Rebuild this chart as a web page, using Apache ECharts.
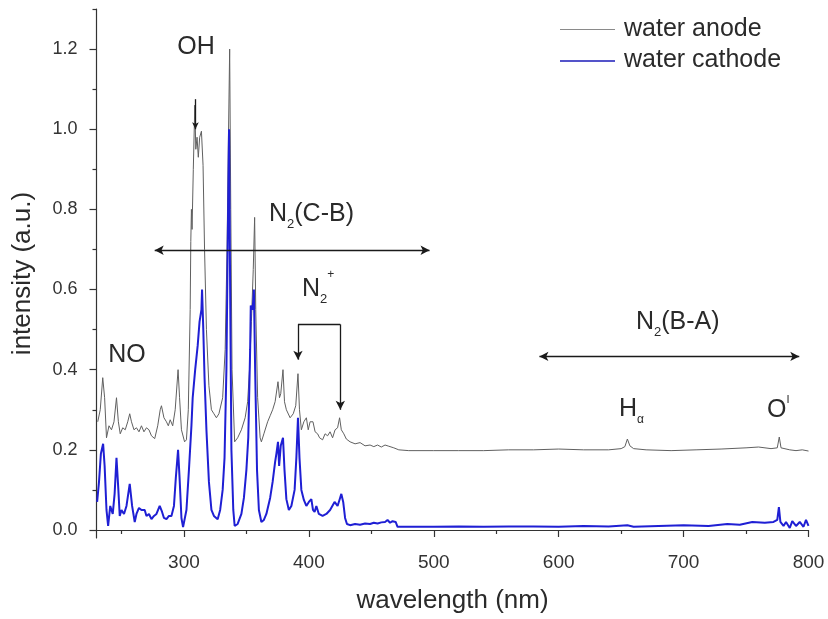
<!DOCTYPE html>
<html>
<head>
<meta charset="utf-8">
<script src="https://cdn.jsdelivr.net/npm/echarts@6/dist/echarts.min.js"></script>
<style>
  html, body { margin: 0; padding: 0; background: #ffffff; }
  #chart { width: 828px; height: 619px; }
</style>
</head>
<body>
<div id="chart"></div>
<script>
// Emission spectrum, water anode (upper trace)
const anodeWavelength = [
  231, 233, 235, 236.5, 238, 240, 242, 244, 246, 247.5, 249, 251, 253, 255, 256.6, 258, 260, 262, 264, 266,
  268, 270, 272, 274, 276.6, 279, 281, 282, 284, 286, 287.5, 289, 291, 293, 295.3, 296.5, 298, 300.5, 302, 303.5,
  305, 305.5, 306, 306.5, 307.5, 308.7, 309.5, 310.5, 311.5, 312.6, 314, 315.3, 316.5, 318, 320, 322, 324, 326, 328, 331,
  333, 334.5, 335.5, 336.6, 337.5, 338.5, 340.6, 343, 346, 349, 351, 352.5, 354, 355.5, 356.6, 357.5, 359, 361, 362, 364,
  367, 369, 371, 373, 375.3, 376.5, 377.5, 379.3, 380.5, 382, 385, 387.5, 389.5, 391.3, 392.5, 394, 396, 398, 399.5, 401,
  403.3, 405, 407, 408.6, 411, 413, 415, 417, 419, 421, 423, 424.6, 426, 428, 430, 433, 437, 441, 445, 449,
  452, 455, 458, 461, 464, 468, 472, 480, 500, 520, 540, 560, 580, 600, 620, 640, 650, 653, 655, 657,
  660, 670, 690, 710, 730, 750, 760, 770, 775, 776.6, 778, 785, 790, 795, 800
];
const anodeIntensity = [
  0.27, 0.30, 0.38, 0.33, 0.23, 0.26, 0.25, 0.27, 0.33, 0.27, 0.24, 0.255, 0.25, 0.27, 0.29, 0.27, 0.25, 0.255, 0.245, 0.26,
  0.245, 0.255, 0.25, 0.235, 0.228, 0.26, 0.30, 0.31, 0.28, 0.27, 0.26, 0.275, 0.26, 0.30, 0.40, 0.33, 0.25, 0.22, 0.225, 0.30,
  0.55, 0.72, 0.80, 0.75, 0.90, 1.06, 0.95, 0.98, 0.93, 0.98, 0.995, 0.91, 0.70, 0.50, 0.36, 0.30, 0.29, 0.28, 0.29, 0.33,
  0.45, 0.70, 0.95, 1.20, 0.80, 0.40, 0.22, 0.23, 0.25, 0.28, 0.32, 0.40, 0.52, 0.65, 0.78, 0.55, 0.33, 0.23, 0.22, 0.24,
  0.27, 0.285, 0.30, 0.32, 0.37, 0.33, 0.34, 0.40, 0.32, 0.30, 0.28, 0.29, 0.31, 0.39, 0.30, 0.25, 0.27, 0.28, 0.25, 0.27,
  0.27, 0.245, 0.24, 0.23, 0.225, 0.24, 0.235, 0.245, 0.23, 0.25, 0.255, 0.28, 0.25, 0.24, 0.227, 0.22, 0.215, 0.218, 0.21, 0.212,
  0.208, 0.212, 0.207, 0.212, 0.209, 0.205, 0.20, 0.198, 0.198, 0.198, 0.198, 0.20, 0.20, 0.202, 0.20, 0.20, 0.203, 0.208, 0.227, 0.21,
  0.203, 0.20, 0.198, 0.20, 0.202, 0.205, 0.207, 0.203, 0.205, 0.232, 0.205, 0.20, 0.198, 0.20, 0.197
];

// Emission spectrum, water cathode (lower trace)
const cathodeWavelength = [
  230.5, 232, 233.5, 235.3, 236.5, 238, 239.3, 241, 243, 244.5, 246, 247.5, 248.6, 250, 252, 254, 256.6, 258.5, 260.6, 262,
  264, 266, 268.6, 270, 272, 274, 276, 278, 280.6, 282.5, 284, 286, 288, 290, 292, 293.5, 295.3, 296.5, 298, 299.3,
  300.6, 302, 304, 306, 307, 309, 311, 312.5, 314, 314.5, 315.5, 316.5, 318, 320, 322, 324, 327, 329, 331, 332.5,
  334, 335, 336.1, 337, 338, 339.5, 340.6, 343, 346, 348, 350, 351.5, 353, 353.5, 355, 356, 357, 358.5, 360, 362,
  364, 366, 369, 371, 373, 374, 375.3, 376.2, 377.5, 379.3, 380.5, 382, 384, 386, 388.6, 390, 391.3, 392.5, 394, 396,
  398, 400, 402, 403.3, 404.6, 406, 408, 411, 414, 417, 420.6, 423, 425, 426, 427.5, 429, 430.5, 433, 437, 441,
  445, 449, 452, 455, 458, 461, 463, 465, 467, 469.5, 471, 480, 500, 520, 540, 560, 580, 600, 620, 640,
  655, 660, 680, 700, 720, 735, 745, 755, 765, 772, 775, 776.3, 777.5, 780, 782, 785, 787, 790, 793, 796,
  798, 800
];
const cathodeIntensity = [
  0.07, 0.12, 0.19, 0.215, 0.16, 0.05, 0.01, 0.06, 0.04, 0.09, 0.18, 0.10, 0.035, 0.05, 0.04, 0.06, 0.115, 0.06, 0.02, 0.04,
  0.055, 0.05, 0.05, 0.035, 0.04, 0.027, 0.035, 0.04, 0.06, 0.045, 0.03, 0.027, 0.035, 0.035, 0.06, 0.13, 0.20, 0.13, 0.03, 0.007,
  0.01, 0.05, 0.15, 0.26, 0.33, 0.40, 0.46, 0.52, 0.55, 0.60, 0.50, 0.38, 0.25, 0.12, 0.05, 0.035, 0.027, 0.05, 0.10, 0.18,
  0.40, 0.70, 1.00, 0.60, 0.20, 0.05, 0.01, 0.015, 0.04, 0.08, 0.15, 0.23, 0.45, 0.56, 0.55, 0.60, 0.40, 0.15, 0.05, 0.02,
  0.025, 0.04, 0.08, 0.12, 0.17, 0.19, 0.22, 0.16, 0.21, 0.23, 0.15, 0.077, 0.05, 0.06, 0.10, 0.18, 0.28, 0.18, 0.10, 0.075,
  0.06, 0.07, 0.077, 0.05, 0.045, 0.06, 0.04, 0.035, 0.04, 0.05, 0.07, 0.06, 0.08, 0.09, 0.07, 0.03, 0.015, 0.012, 0.015, 0.013,
  0.016, 0.015, 0.018, 0.016, 0.019, 0.02, 0.025, 0.018, 0.022, 0.02, 0.008, 0.008, 0.008, 0.009, 0.008, 0.009, 0.009, 0.008, 0.01, 0.009,
  0.012, 0.008, 0.01, 0.012, 0.01, 0.015, 0.013, 0.02, 0.018, 0.02, 0.025, 0.057, 0.02, 0.01, 0.02, 0.005, 0.022, 0.01, 0.02, 0.008,
  0.025, 0.01
];

// Axis tick positions
const xMajorTicks = [300, 400, 500, 600, 700, 800];
const xMinorTicks = [250, 350, 450, 550, 650, 750];
const yMajorTicks = [0, 0.2, 0.4, 0.6, 0.8, 1.0, 1.2];
const yMinorTicks = [0.1, 0.3, 0.5, 0.7, 0.9, 1.1, 1.3];

const FONT = '"Liberation Sans", Arial, Helvetica, sans-serif';
const INK = '#2a2a2a';
const ARROW = '#1a1a1a';

const chart = echarts.init(document.getElementById('chart'), null, { renderer: 'canvas' });

const anodeData = anodeWavelength.map((w, i) => [w, anodeIntensity[i]]);
const cathodeData = cathodeWavelength.map((w, i) => [w, cathodeIntensity[i]]);

// measure text width so subscripts sit right after their base letters
const measureCtx = document.createElement('canvas').getContext('2d');
function textWidth(str, size) {
  measureCtx.font = size + 'px ' + FONT;
  return measureCtx.measureText(str).width;
}
// parts: [text, size, dy]
function composite(x, y, parts) {
  const out = [];
  let cx = x;
  parts.forEach(([t, size, dy]) => {
    out.push({
      type: 'text', x: cx, y: y + dy, silent: true,
      style: { text: t, fill: INK, font: size + 'px ' + FONT, textAlign: 'left', textVerticalAlign: 'middle' }
    });
    cx += textWidth(t, size);
  });
  return out;
}
function label(x, y, t, size) {
  return {
    type: 'text', x: x, y: y, silent: true,
    style: { text: t, fill: INK, font: size + 'px ' + FONT, textAlign: 'center', textVerticalAlign: 'middle' }
  };
}

// arrow segments (data coordinates)
function seg(a, b, startSym, endSym, size) {
  const s = size || [7, 9];
  return [
    { coord: a, symbol: startSym, symbolSize: s },
    { coord: b, symbol: endSym, symbolSize: s }
  ];
}

const annotationLines = [
  seg([276.6, 0.698], [496.6, 0.698], 'arrow', 'arrow'),   // N2(C-B) range
  seg([584.6, 0.433], [792.6, 0.433], 'arrow', 'arrow'),   // N2(B-A) range
  seg([391.3, 0.513], [425.2, 0.513], 'none', 'none'),     // N2+ bracket top
  seg([391.3, 0.513], [391.3, 0.425], 'none', 'arrow'),
  seg([425.2, 0.513], [425.2, 0.300], 'none', 'arrow'),
  seg([309.2, 1.075], [309.2, 1.00], 'none', 'arrow', [5, 7])  // OH marker
];

const T = 25;
const graphics = [
  label(196, 47, 'OH', T),
  label(127, 355, 'NO', T),
  ...composite(269, 214, [['N', T, 0], ['2', 13, 10], ['(C-B)', T, 0]]),
  ...composite(302, 289, [['N', T, 0], ['2', 13, 10], ['+', 12, -14]]),
  ...composite(636, 322, [['N', T, 0], ['2', 13, 10], ['(B-A)', T, 0]]),
  ...composite(619, 409, [['H', T, 0], ['\u03b1', 12, 11]]),
  ...composite(767, 410, [['O', T, 0], ['I', 11, -10]]),
  // legend
  { type: 'line', silent: true, shape: { x1: 560, y1: 29.5, x2: 615, y2: 29.5 }, style: { stroke: '#8a8a8a', lineWidth: 1.2 } },
  { type: 'line', silent: true, shape: { x1: 560, y1: 61, x2: 615, y2: 61 }, style: { stroke: '#1b1bb8', lineWidth: 1.5 } },
  { type: 'text', x: 624, y: 29, silent: true, style: { text: 'water anode', fill: INK, font: T + 'px ' + FONT, textVerticalAlign: 'middle' } },
  { type: 'text', x: 624, y: 60, silent: true, style: { text: 'water cathode', fill: INK, font: T + 'px ' + FONT, textVerticalAlign: 'middle' } }
];

const axisLineStyle = { color: '#333333', width: 1.2 };
const commonX = { type: 'value', min: 230, max: 800, position: 'bottom', splitLine: { show: false } };
const commonY = { type: 'value', min: -0.02, max: 1.3, position: 'left', splitLine: { show: false } };

const option = {
  animation: false,
  backgroundColor: '#ffffff',
  grid: { left: 96.5, right: 19.5, top: 9, bottom: 80, containLabel: false },
  xAxis: [
    Object.assign({}, commonX, {
      axisLine: { show: true, lineStyle: axisLineStyle },
      axisTick: { show: true, inside: false, length: 7, customValues: xMajorTicks, lineStyle: axisLineStyle },
      axisLabel: { show: true, customValues: xMajorTicks, fontSize: 19, fontFamily: FONT, color: '#333333', margin: 15 },
      name: 'wavelength (nm)', nameLocation: 'middle', nameGap: 50,
      nameTextStyle: { fontSize: 26, fontFamily: FONT, color: INK }
    }),
    Object.assign({}, commonX, {
      axisLine: { show: false },
      axisTick: { show: true, inside: false, length: 4, customValues: xMinorTicks, lineStyle: axisLineStyle },
      axisLabel: { show: false }
    })
  ],
  yAxis: [
    Object.assign({}, commonY, {
      axisLine: { show: true, lineStyle: axisLineStyle },
      axisTick: { show: true, inside: false, length: 7, customValues: yMajorTicks, lineStyle: axisLineStyle },
      axisLabel: {
        show: true, customValues: yMajorTicks, fontSize: 18, fontFamily: FONT, color: '#333333', margin: 19,
        formatter: v => v.toFixed(1)
      },
      name: 'intensity (a.u.)', nameLocation: 'middle', nameGap: 61, nameRotate: 90,
      nameTextStyle: { fontSize: 26, fontFamily: FONT, color: INK }
    }),
    Object.assign({}, commonY, {
      axisLine: { show: false },
      axisTick: { show: true, inside: false, length: 4, customValues: yMinorTicks, lineStyle: axisLineStyle },
      axisLabel: { show: false }
    })
  ],
  series: [
    {
      name: 'water anode', type: 'line', xAxisIndex: 0, yAxisIndex: 0,
      data: anodeData, showSymbol: false, smooth: false, z: 2,
      lineStyle: { color: '#606060', width: 1 },
      emphasis: { disabled: true },
      markLine: {
        silent: true, animation: false, label: { show: false },
        lineStyle: { color: ARROW, width: 1.3, type: 'solid' },
        emphasis: { disabled: true },
        data: annotationLines
      }
    },
    {
      name: 'water cathode', type: 'line', xAxisIndex: 0, yAxisIndex: 0,
      data: cathodeData, showSymbol: false, smooth: false, z: 3,
      lineStyle: { color: '#1f1fd4', width: 2 },
      emphasis: { disabled: true }
    }
  ],
  graphic: graphics
};

chart.setOption(option);
</script>
</body>
</html>
